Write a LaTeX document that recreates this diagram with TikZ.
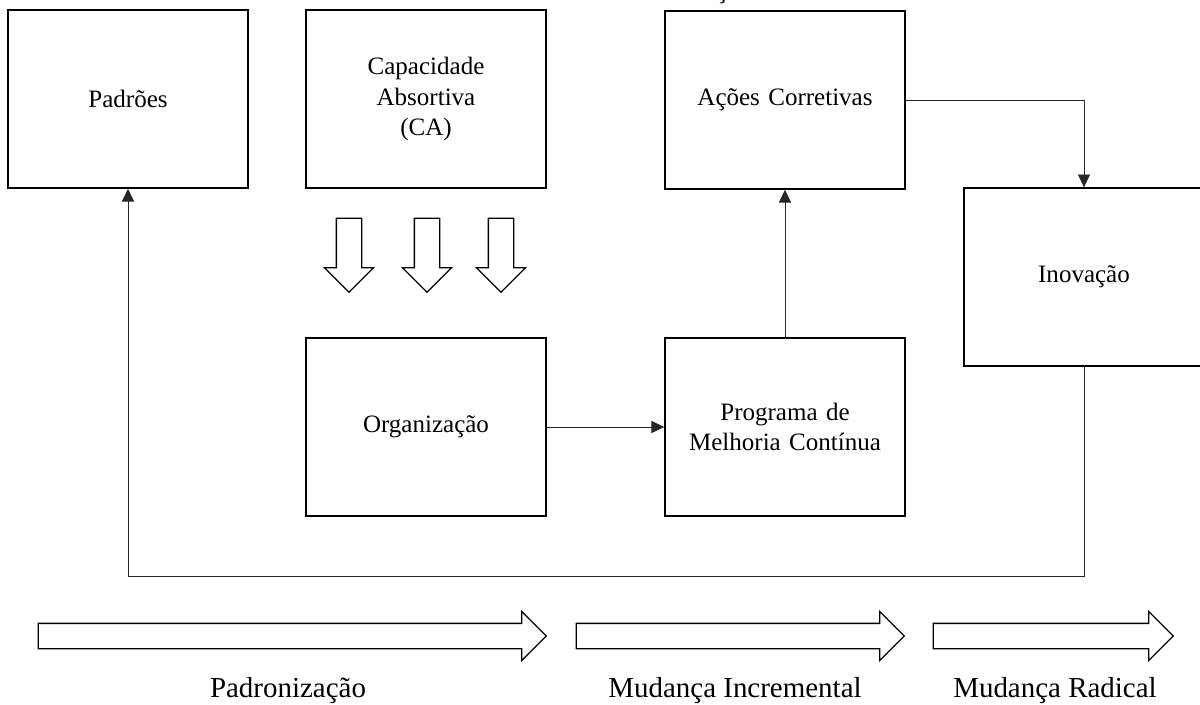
\documentclass[tikz,border=0pt]{standalone}
\usepackage{fontspec}
\setmainfont{Liberation Serif}
\usepackage{tikz}
\usetikzlibrary{shapes,arrows,arrows.meta,positioning}
\tikzstyle{box}=[rectangle, draw=black, line width=1pt, fill=white, minimum width=6cm, minimum height=4.45cm, text width=5.6cm, align=center, font=\fontsize{17.8}{21.5}\selectfont]
\tikzstyle{arrow1}=[single arrow, draw=black, line width=0.9pt, fill=white, inner xsep=0pt, inner ysep=0.3cm, single arrow head extend=0.3cm, minimum height=1.85cm, rotate=-90]
\tikzstyle{arrow2}=[single arrow, draw=black, line width=0.9pt, fill=white, inner xsep=0pt, inner ysep=0.3cm, single arrow head extend=0.3cm]
\tikzstyle{phase}=[anchor=base, font=\fontsize{20.6}{24}\selectfont]
\tikzstyle{conn}=[draw=black!85, line width=0.7pt, -{Triangle[length=3.2mm,width=3mm]}]

\begin{document}
\begin{tikzpicture}[x=0.25mm,y=-0.25mm]
\useasboundingbox (0,0) rectangle (1200,704);
%Title
\node[anchor=base, font=\fontsize{17.8}{21.5}\selectfont] (title) at (607,-1.3){Ciclo de Gestão da Inovação};
%Row One
\node[box] (padr) at (128,99){Padrões};
\node[box] (cap) at (426,99){Capacidade\\Absortiva\\(CA)};
\node[box] (acoes) at (785,100){Ações Corretivas};
\node[box] (inov) at (1084,277){Inovação};
%Arrows
\node[arrow1] (ar1) at (349,249){};
\node[arrow1] (ar2) at (427,249){};
\node[arrow1] (ar3) at (501,249){};
%Row Two
\node[box] (org) at (426,427){Organização};
\node[box] (prog) at (785,427){Programa de\\Melhoria Contínua};
%Connectors
\coordinate (back) at (1084,576);
\draw[conn] (acoes.east) -| (inov.north);
\draw[conn] (prog.north) -- (acoes.south);
\draw[conn] (org.east) -- (prog.west);
\draw[conn] (inov.south) -- (back) -| (padr.south);
%Phases
\node[arrow2, minimum height=12.7cm] (ph1) at (286,636){};
\node[arrow2, minimum height=8.2cm] (ph2) at (734,636){};
\node[arrow2, minimum height=6cm] (ph3) at (1047,636){};
\node[phase] (l1) at (288,697){Padronização};
\node[phase] (l2) at (735,697){Mudança Incremental};
\node[phase] (l3) at (1055,697){Mudança Radical};
\end{tikzpicture}
\end{document}
